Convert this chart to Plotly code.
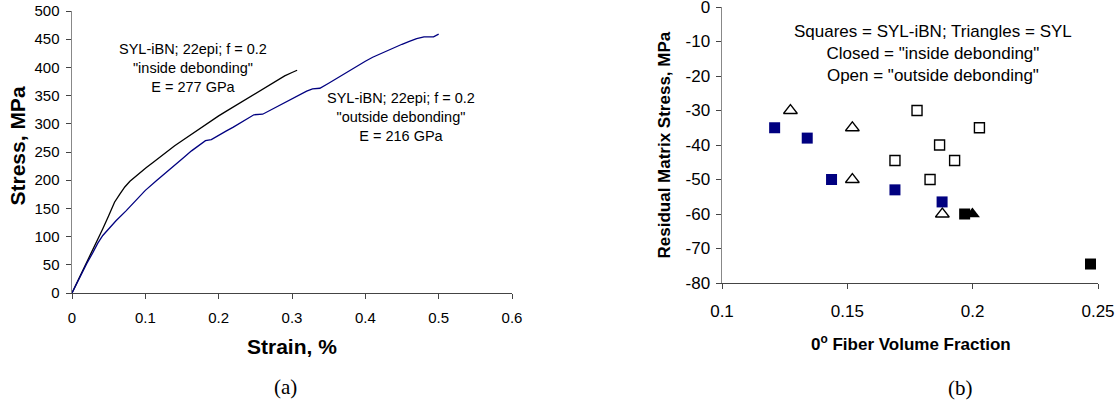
import plotly.graph_objects as go

# ---- Panel (a): stress-strain curves ----
inside_strain = [0, 0.01, 0.02, 0.0286, 0.035, 0.042, 0.05, 0.058, 0.065, 0.072, 0.079, 0.085,
                 0.093, 0.101, 0.11, 0.12, 0.129, 0.14, 0.15, 0.16, 0.17, 0.18, 0.19, 0.2, 0.21,
                 0.22, 0.23, 0.24, 0.25, 0.26, 0.27, 0.28, 0.29, 0.3, 0.307]
inside_stress = [0, 27, 54, 76, 93, 114, 137, 161, 175, 188, 198, 205,
                 213, 222, 231, 241, 251, 261, 270, 279, 288, 297, 305, 314, 322,
                 330, 338, 346, 354, 362, 370, 378, 385, 391, 395]

outside_strain = [0, 0.01, 0.02, 0.0286, 0.035, 0.042, 0.05, 0.06, 0.074, 0.085, 0.1, 0.115,
                  0.129, 0.14, 0.152, 0.163, 0.175, 0.182, 0.19, 0.2, 0.21, 0.22, 0.23, 0.24,
                  0.248, 0.26, 0.27, 0.28, 0.29, 0.3, 0.31, 0.32, 0.328, 0.338, 0.35, 0.36,
                  0.37, 0.38, 0.392, 0.4, 0.41, 0.42, 0.43, 0.44, 0.45, 0.46, 0.47, 0.48,
                  0.493, 0.5]
outside_stress = [0, 27, 52, 72, 88, 102, 114, 128, 146, 161, 182, 199,
                  215, 227, 240, 252, 263, 270, 272, 280, 287, 294, 302, 310,
                  316, 317, 324, 331, 337, 344, 351, 358, 362, 363, 372, 380,
                  388, 396, 406, 411, 418, 424, 430, 436, 441, 446, 451, 454,
                  454, 459]

# ---- Panel (b): residual matrix stress vs fiber volume fraction ----
blue_sq_x = [0.121, 0.134, 0.1437, 0.169, 0.1878]
blue_sq_y = [-35, -38, -50, -53, -56.5]
black_sq_x = [0.1968, 0.247]
black_sq_y = [-60, -74.5]
black_tri_x = [0.1999]
black_tri_y = [-60]
open_tri_x = [0.1273, 0.152, 0.152, 0.1879]
open_tri_y = [-30, -35, -50, -60]
open_sq_x = [0.1778, 0.2027, 0.1868, 0.169, 0.1928, 0.183]
open_sq_y = [-30, -35, -40, -44.5, -44.5, -50]

a_xticks = [0, 0.1, 0.2, 0.3, 0.4, 0.5, 0.6]
a_xticklabels = ["0", "0.1", "0.2", "0.3", "0.4", "0.5", "0.6"]
a_yticks = [0, 50, 100, 150, 200, 250, 300, 350, 400, 450, 500]
a_yticklabels = ["0", "50", "100", "150", "200", "250", "300", "350", "400", "450", "500"]
b_xticks = [0.1, 0.15, 0.2, 0.25]
b_xticklabels = ["0.1", "0.15", "0.2", "0.25"]
b_yticks = [0, -10, -20, -30, -40, -50, -60, -70, -80]
b_yticklabels = ["0", "-10", "-20", "-30", "-40", "-50", "-60", "-70", "-80"]

W, H = 1117, 403
SANS = "Liberation Sans, Arial, sans-serif"
SERIF = "Liberation Serif, Times New Roman, serif"
NAVY = "#000080"

fig = go.Figure()

fig.add_trace(go.Scatter(x=inside_strain, y=inside_stress, mode="lines",
                         line=dict(color="black", width=1.3), xaxis="x", yaxis="y",
                         showlegend=False, hoverinfo="skip"))
fig.add_trace(go.Scatter(x=outside_strain, y=outside_stress, mode="lines",
                         line=dict(color=NAVY, width=1.3), xaxis="x", yaxis="y",
                         showlegend=False, hoverinfo="skip"))

fig.add_trace(go.Scatter(x=open_sq_x, y=open_sq_y, mode="markers", xaxis="x2", yaxis="y2",
                         marker=dict(symbol="square-open", size=10, color="black",
                                     line=dict(width=1.4, color="black")),
                         showlegend=False, hoverinfo="skip"))
fig.add_trace(go.Scatter(x=open_tri_x, y=open_tri_y, mode="markers", xaxis="x2", yaxis="y2",
                         marker=dict(symbol="triangle-up-open", size=12, color="black",
                                     line=dict(width=1.3, color="black")),
                         showlegend=False, hoverinfo="skip"))
fig.add_trace(go.Scatter(x=blue_sq_x, y=blue_sq_y, mode="markers", xaxis="x2", yaxis="y2",
                         marker=dict(symbol="square", size=11, color=NAVY,
                                     line=dict(width=0)),
                         showlegend=False, hoverinfo="skip"))
fig.add_trace(go.Scatter(x=black_sq_x, y=black_sq_y, mode="markers", xaxis="x2", yaxis="y2",
                         marker=dict(symbol="square", size=11, color="black",
                                     line=dict(width=0)),
                         showlegend=False, hoverinfo="skip"))
fig.add_trace(go.Scatter(x=black_tri_x, y=black_tri_y, mode="markers", xaxis="x2", yaxis="y2",
                         marker=dict(symbol="triangle-up", size=13, color="black",
                                     line=dict(width=0)),
                         showlegend=False, hoverinfo="skip"))

def px_x(p):
    return p / W

def px_y(p):
    return 1 - p / H

axis_common = dict(showgrid=False, zeroline=False, showline=True, ticks="outside",
                   ticklen=5, tickwidth=1, tickcolor="#444", fixedrange=True,
                   automargin=False, ticklabeloverflow="allow")

fig.update_layout(
    template="none",
    width=W, height=H,
    margin=dict(l=0, r=0, t=0, b=0, pad=0),
    paper_bgcolor="white", plot_bgcolor="white",
    font=dict(family=SANS, color="black"),
    xaxis=dict(domain=[px_x(72), px_x(512)], range=[0, 0.6], tickvals=a_xticks,
               ticktext=a_xticklabels, linecolor="#444", linewidth=1, ticklabelstandoff=6,
               tickfont=dict(size=15, family=SANS, color="black"), anchor="y", **axis_common),
    yaxis=dict(domain=[px_y(293), px_y(11)], range=[0, 500], tickvals=a_yticks,
               ticktext=a_yticklabels, linecolor="#888", linewidth=1.5, ticklabelstandoff=3,
               tickfont=dict(size=15, family=SANS, color="black"), anchor="x", **axis_common),
    xaxis2=dict(domain=[px_x(722), px_x(1098)], range=[0.1, 0.25], tickvals=b_xticks,
                ticktext=b_xticklabels, linecolor="#444", linewidth=1, ticklabelstandoff=8,
                tickfont=dict(size=17, family=SANS, color="black"), anchor="y2", **axis_common),
    yaxis2=dict(domain=[px_y(283), px_y(7)], range=[-80, 0], tickvals=b_yticks,
                ticktext=b_yticklabels, linecolor="#888", linewidth=1.5, ticklabelstandoff=2,
                tickfont=dict(size=17, family=SANS, color="black"), anchor="x2", **axis_common),
)

ann = [
    dict(text="<b>Stress, MPa</b>", x=px_x(16.5), y=px_y(146), textangle=-90,
         font=dict(size=21, family=SANS, color="black")),
    dict(text="<b>Strain, %</b>", x=px_x(292), y=px_y(346.7),
         font=dict(size=21, family=SANS, color="black")),
    dict(text="(a)", x=px_x(285), y=px_y(387),
         font=dict(size=21, family=SERIF, color="black")),
    dict(text="<b>Residual Matrix Stress, MPa</b>", x=px_x(664), y=px_y(145.5), textangle=-90,
         font=dict(size=17, family=SANS, color="black")),
    dict(text="<b>0<sup>o</sup> Fiber Volume Fraction</b>", x=px_x(910.5), y=px_y(343.3),
         font=dict(size=17, family=SANS, color="black")),
    dict(text="(b)", x=px_x(960), y=px_y(388),
         font=dict(size=21, family=SERIF, color="black")),
    dict(text="SYL-iBN; 22epi; f = 0.2<br>\"inside debonding\"<br>E = 277 GPa",
         x=px_x(193.5), y=px_y(68), font=dict(size=14.5, family=SANS, color="black")),
    dict(text="SYL-iBN; 22epi; f = 0.2<br>\"outside debonding\"<br>E = 216 GPa",
         x=px_x(401), y=px_y(117), font=dict(size=14.5, family=SANS, color="black")),
    dict(text="Squares = SYL-iBN; Triangles = SYL<br>Closed = \"inside debonding\"<br>Open = \"outside debonding\"",
         x=px_x(932.7), y=px_y(54), font=dict(size=17, family=SANS, color="black")),
]
for a in ann:
    fig.add_annotation(xref="paper", yref="paper", xanchor="center", yanchor="middle",
                       showarrow=False, align="center", **a)

fig.write_html("out.html", config={"displayModeBar": False, "staticPlot": True},
               post_script="document.body.style.margin='0px';document.body.style.overflow='hidden';")
